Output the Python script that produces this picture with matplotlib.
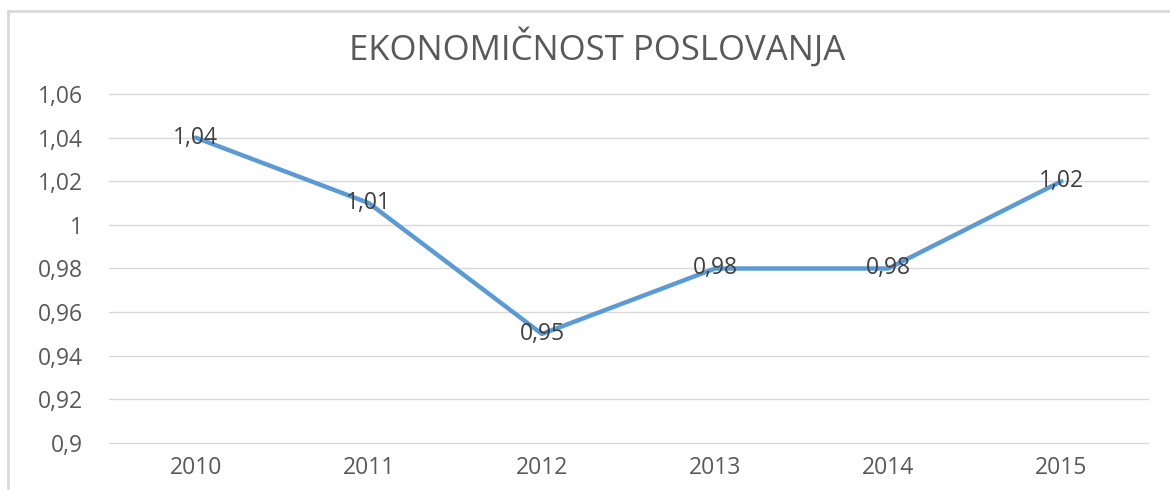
import matplotlib.pyplot as plt
from matplotlib.lines import Line2D

plt.rcParams['font.family'] = ['Open Sans', 'DejaVu Sans']

# podaci
godine = ['2010', '2011', '2012', '2013', '2014', '2015']
ekonomicnost = [1.04, 1.01, 0.95, 0.98, 0.98, 1.02]
y_ticks = [0.9, 0.92, 0.94, 0.96, 0.98, 1.0, 1.02, 1.04, 1.06]
y_tick_labels = ['0,9', '0,92', '0,94', '0,96', '0,98', '1', '1,02', '1,04', '1,06']

fig = plt.figure(figsize=(11.7, 4.9), dpi=100)
ax = fig.add_axes([0.0932, 0.0959, 0.888, 0.7123])

x = list(range(len(godine)))
ax.plot(x, ekonomicnost, color='#5B9BD5', linewidth=3.2, solid_capstyle='round', zorder=3)

for xi, v in zip(x, ekonomicnost):
    ax.text(xi, v, f'{v:.2f}'.replace('.', ','), ha='center', va='center',
            fontsize=16.5, color='#404040', zorder=4)

ax.set_xlim(-0.5, len(godine) - 0.5)
ax.set_ylim(0.9, 1.06)
ax.set_xticks(x)
ax.set_xticklabels(godine)
ax.set_yticks(y_ticks)
ax.set_yticklabels(y_tick_labels)
ax.tick_params(axis='both', length=0, labelsize=16.5, labelcolor='#595959')
ax.tick_params(axis='x', pad=9)
ax.tick_params(axis='y', pad=19)
ax.grid(axis='y', color='#d9d9d9', linewidth=1)
for gl in ax.get_ygridlines():
    gl.set_clip_on(False)
ax.set_axisbelow(True)
for s in ax.spines.values():
    s.set_visible(False)

fig.text(0.51, 0.902, 'EKONOMIČNOST POSLOVANJA', ha='center', va='center',
         fontsize=25, color='#595959')

# okvir grafikona
fig.add_artist(Line2D([8 / 1170, 8 / 1170], [0, 1 - 11 / 490], color='#d9d9d9', linewidth=2))
fig.add_artist(Line2D([8 / 1170, 1], [1 - 11 / 490, 1 - 11 / 490], color='#d9d9d9', linewidth=2))

fig.savefig('out.png', dpi=100)
